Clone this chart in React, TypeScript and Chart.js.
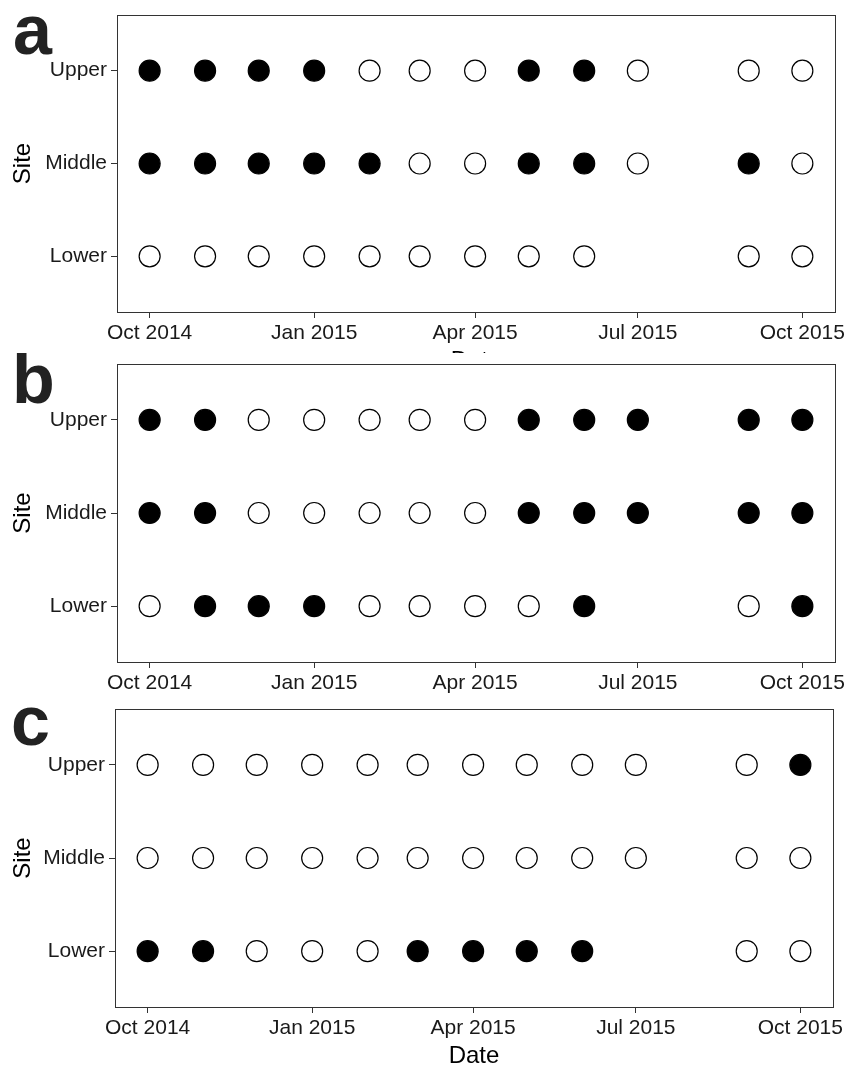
import React, { useEffect, useRef } from "react";
import { Chart, registerables } from "chart.js";

Chart.register(...registerables);

// ---- data ----
const sampleDates = [
  "2014-10-01", "2014-11-01", "2014-12-01", "2015-01-01", "2015-02-01", "2015-03-01",
  "2015-04-01", "2015-05-01", "2015-06-01", "2015-07-01", "2015-09-01", "2015-10-01",
];
const sites = ["Upper", "Middle", "Lower"];
const xTickDates = ["2014-10-01", "2015-01-01", "2015-04-01", "2015-07-01", "2015-10-01"];
const xTickLabels = ["Oct 2014", "Jan 2015", "Apr 2015", "Jul 2015", "Oct 2015"];
const panelLetters = ["a", "b", "c"];

// 1 = filled (detected), 0 = open (not detected), null = no sample
const aUpper = [1, 1, 1, 1, 0, 0, 0, 1, 1, 0, 0, 0];
const aMiddle = [1, 1, 1, 1, 1, 0, 0, 1, 1, 0, 1, 0];
const aLower = [0, 0, 0, 0, 0, 0, 0, 0, 0, null, 0, 0];

const bUpper = [1, 1, 0, 0, 0, 0, 0, 1, 1, 1, 1, 1];
const bMiddle = [1, 1, 0, 0, 0, 0, 0, 1, 1, 1, 1, 1];
const bLower = [0, 1, 1, 1, 0, 0, 0, 0, 1, null, 0, 1];

const cUpper = [0, 0, 0, 0, 0, 0, 0, 0, 0, 0, 0, 1];
const cMiddle = [0, 0, 0, 0, 0, 0, 0, 0, 0, 0, 0, 0];
const cLower = [1, 1, 0, 0, 0, 1, 1, 1, 1, null, 0, 0];

const panelRows = [
  [aUpper, aMiddle, aLower],
  [bUpper, bMiddle, bLower],
  [cUpper, cMiddle, cLower],
];

// ---- layout (page pixels) ----
const W = 847;
const X_AXIS_H = 62;
const layouts = [
  { top: 0, boxTop: 15, boxBottom: 312, boxLeft: 117, boxRight: 835, letterDy: 39, letterX: 13 },
  { top: 353, boxTop: 364, boxBottom: 662, boxLeft: 117, boxRight: 835, letterDy: 39, letterX: 12 },
  { top: 699, boxTop: 709, boxBottom: 1007, boxLeft: 115, boxRight: 833, letterDy: 36, letterX: 11 },
];

const DAY = 86400000;
const toDay = (s: string) => Date.parse(s + "T00:00:00Z") / DAY;
const FONT = '"Liberation Sans", Arial, Helvetica, sans-serif';

function Panel({ idx }: { idx: number }) {
  const ref = useRef<HTMLCanvasElement | null>(null);
  const L = layouts[idx];
  const height = L.boxBottom - L.top + X_AXIS_H;

  useEffect(() => {
    const rows = panelRows[idx];
    const pts: any[] = [];
    rows.forEach((row, s) => {
      row.forEach((v, d) => {
        if (v === null) return;
        pts.push({ x: toDay(sampleDates[d]), y: sites.length - s, v });
      });
    });
    const first = toDay(sampleDates[0]);
    const last = toDay(sampleDates[sampleDates.length - 1]);
    const expand = (last - first) * 0.05;

    const deco = {
      id: "deco" + idx,
      beforeDraw(chart: any) {
        const ctx = chart.ctx;
        ctx.save();
        ctx.fillStyle = "#ffffff";
        ctx.fillRect(0, 0, chart.width, chart.height);
        ctx.restore();
      },
      afterDraw(chart: any) {
        const ctx = chart.ctx;
        const a = chart.chartArea;
        const al = (v: number) => Math.floor(v) + 0.5;
        ctx.save();
        ctx.strokeStyle = "#333333";
        ctx.lineWidth = 1;
        ctx.strokeRect(al(a.left), al(a.top), al(a.right) - al(a.left), al(a.bottom) - al(a.top));
        ctx.fillStyle = "#222222";
        ctx.font = "bold 70px " + FONT;
        ctx.textBaseline = "alphabetic";
        ctx.textAlign = "left";
        ctx.fillText(panelLetters[idx], L.letterX, L.boxTop - L.top + L.letterDy);
        ctx.restore();
      },
    };

    const chart = new Chart(ref.current as HTMLCanvasElement, {
      type: "scatter",
      data: {
        datasets: [
          {
            data: pts,
            pointRadius: 10.5,
            pointHoverRadius: 10.5,
            borderWidth: 1.2,
            borderColor: "#000000",
            backgroundColor: (c: any) => (c.raw && c.raw.v ? "#000000" : "#ffffff"),
            pointBackgroundColor: (c: any) => (c.raw && c.raw.v ? "#000000" : "#ffffff"),
          } as any,
        ],
      },
      options: {
        animation: false,
        responsive: false,
        devicePixelRatio: 1,
        events: [],
        layout: {
          autoPadding: false,
          padding: { top: L.boxTop - L.top, bottom: 0, left: 0, right: W - L.boxRight },
        },
        plugins: { legend: { display: false }, tooltip: { enabled: false } },
        scales: {
          x: {
            type: "linear",
            position: "bottom",
            min: first - expand,
            max: last + expand,
            afterBuildTicks: (scale: any) => {
              scale.ticks = xTickDates.map((d) => ({ value: toDay(d) }));
            },
            afterFit: (scale: any) => {
              scale.height = X_AXIS_H;
              scale.paddingLeft = 0;
              scale.paddingRight = 0;
              scale.paddingTop = 0;
              scale.paddingBottom = 0;
            },
            ticks: {
              autoSkip: false,
              maxRotation: 0,
              minRotation: 0,
              padding: 3,
              color: "#1a1a1a",
              font: { family: FONT, size: 21 },
              callback: (_v: any, i: number) => xTickLabels[i],
            },
            grid: {
              display: true,
              drawOnChartArea: false,
              drawTicks: true,
              tickLength: 6,
              color: "#333333",
              lineWidth: 1,
            },
            border: { display: false },
            title: {
              display: true,
              text: "Date",
              color: "#000000",
              font: { family: FONT, size: 24, lineHeight: 1 },
              padding: { top: 0, bottom: 0.5 },
            },
          },
          y: {
            type: "linear",
            position: "left",
            min: 0.4,
            max: 3.6,
            afterBuildTicks: (scale: any) => {
              scale.ticks = sites.map((_s, i) => ({ value: sites.length - i }));
            },
            afterFit: (scale: any) => {
              scale.width = L.boxLeft;
              scale.paddingLeft = 0;
              scale.paddingRight = 0;
              scale.paddingTop = 0;
              scale.paddingBottom = 0;
            },
            ticks: {
              autoSkip: false,
              padding: 4,
              color: "#1a1a1a",
              font: { family: FONT, size: 21 },
              callback: (v: any) => sites[sites.length - Number(v)],
            },
            grid: {
              display: true,
              drawOnChartArea: false,
              drawTicks: true,
              tickLength: 6,
              color: "#333333",
              lineWidth: 1,
            },
            border: { display: false },
            title: {
              display: true,
              text: "Site",
              color: "#000000",
              font: { family: FONT, size: 24, lineHeight: 1 },
              padding: { top: 11, bottom: 0 },
            },
          },
        },
      } as any,
      plugins: [deco],
    });
    return () => chart.destroy();
  }, [idx]);

  return (
    <canvas
      ref={ref}
      width={W}
      height={height}
      style={{ position: "absolute", left: 0, top: L.top, width: W, height, display: "block" }}
    />
  );
}

export default function App() {
  return (
    <div
      style={{
        position: "absolute",
        left: 0,
        top: 0,
        width: W,
        height: 1066,
        overflow: "hidden",
        background: "#ffffff",
      }}
    >
      {layouts.map((_l, i) => (
        <Panel key={i} idx={i} />
      ))}
    </div>
  );
}
